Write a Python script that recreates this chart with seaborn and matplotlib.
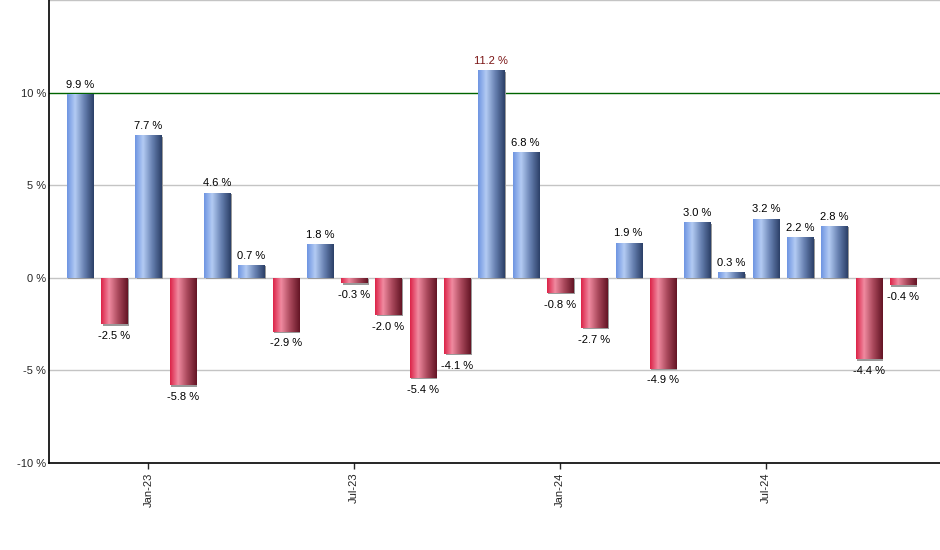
import numpy as np
import pandas as pd
import seaborn as sns
import matplotlib.pyplot as plt
from matplotlib.colors import LinearSegmentedColormap
from matplotlib.patches import Rectangle
import matplotlib.transforms as mtransforms

# Dados: retornos mensais (%)
meses = ['Nov-22', 'Dec-22', 'Jan-23', 'Feb-23', 'Mar-23', 'Apr-23', 'May-23', 'Jun-23',
         'Jul-23', 'Aug-23', 'Sep-23', 'Oct-23', 'Nov-23', 'Dec-23', 'Jan-24', 'Feb-24',
         'Mar-24', 'Apr-24', 'May-24', 'Jun-24', 'Jul-24', 'Aug-24', 'Sep-24', 'Oct-24',
         'Nov-24']
retornos = [9.9, -2.5, 7.7, -5.8, 4.6, 0.7, -2.9, 1.8, -0.3, -2.0, -5.4, -4.1,
            11.2, 6.8, -0.8, -2.7, 1.9, -4.9, 3.0, 0.3, 3.2, 2.2, 2.8, -4.4, -0.4]
meses_visiveis = ['Jan-23', 'Jul-23', 'Jan-24', 'Jul-24']
y_ticks = [-10, -5, 0, 5, 10]

df = pd.DataFrame({'mes': meses, 'retorno': retornos})

sns.set_style('white')
plt.rcParams['font.family'] = ['Liberation Sans', 'DejaVu Sans']

fig = plt.figure(figsize=(9.4, 5.5), dpi=100)
ax = fig.add_axes([49 / 940, 87 / 550, 891 / 940, 463 / 550])

sns.barplot(data=df, x='mes', y='retorno', color='#7a9de8', width=0.76,
            ax=ax, zorder=3, saturation=1)

# gradientes horizontais nas barras
cmap_azul = LinearSegmentedColormap.from_list(
    'azul', [(0, '#6f95e2'), (0.3, '#b3cbf3'), (0.65, '#6680b0'), (1, '#2c4068')])
cmap_verm = LinearSegmentedColormap.from_list(
    'verm', [(0, '#dc2449'), (0.3, '#f08aa0'), (0.65, '#a8475a'), (1, '#641525')])
grad = np.linspace(0, 1, 64).reshape(1, -1)

sombra = mtransforms.offset_copy(ax.transData, fig=fig, x=1.5, y=-1.5, units='dots')
for p, v in zip(ax.patches, retornos):
    x0, w = p.get_x(), p.get_width()
    y0, y1 = sorted([p.get_y(), p.get_y() + p.get_height()])
    p.set_facecolor('none')
    p.set_edgecolor('none')
    ax.add_patch(Rectangle((x0, y0), w, y1 - y0, transform=sombra,
                           facecolor='#9a9a9a', edgecolor='none', zorder=2.5))
    im = ax.imshow(grad, extent=[x0, x0 + w, y0 - 0.2, y1 + 0.2], aspect='auto',
                   cmap=cmap_azul if v >= 0 else cmap_verm, zorder=3.5)
    im.set_clip_path(p)
    # rótulo
    cor = '#7a1414' if v == max(retornos) else 'black'
    if v >= 0:
        ax.annotate(f'{v:.1f} %', (x0 + w / 2, y1), xytext=(0, 3), textcoords='offset points',
                    ha='center', va='bottom', fontsize=8, color=cor, zorder=5)
    else:
        ax.annotate(f'{v:.1f} %', (x0 + w / 2, y0), xytext=(0, -5), textcoords='offset points',
                    ha='center', va='top', fontsize=8, color=cor, zorder=5)

ax.set_xlim(-0.9, 25.08)
ax.set_ylim(-10, 15)

# linhas de grade
for g in [-5, 0, 5, 15]:
    ax.axhline(g, color='#c4c4c4', lw=1, zorder=1)
ax.axhline(10, color='#006400', lw=1, zorder=1)

ax.set_yticks(y_ticks)
ax.set_yticklabels([f'{t} %' for t in y_ticks])
posicoes = [meses.index(m) for m in meses_visiveis]
ax.set_xticks(posicoes)
ax.set_xticklabels(meses_visiveis, rotation=90)
ax.tick_params(axis='y', length=0, pad=2, labelsize=8)
ax.tick_params(axis='x', length=4, width=1, pad=3, labelsize=8, bottom=True, direction='out')
ax.set_xlabel('')
ax.set_ylabel('')

for s in ['top', 'right']:
    ax.spines[s].set_visible(False)
for s in ['left', 'bottom']:
    ax.spines[s].set_color('black')
    ax.spines[s].set_linewidth(1.2)

plt.savefig('out.png', dpi=100)
